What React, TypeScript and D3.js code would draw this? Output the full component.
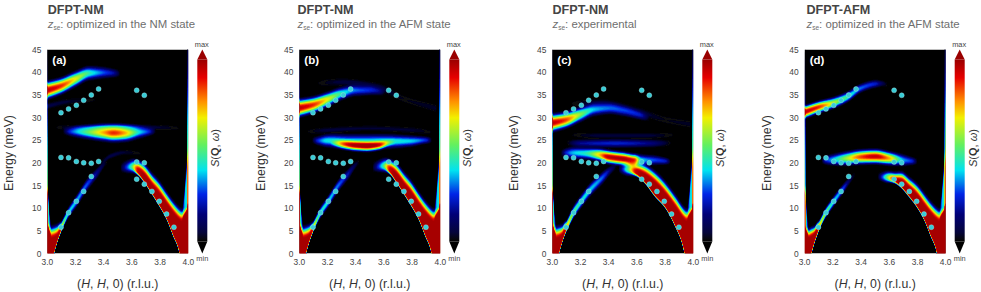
import React, { useMemo } from "react";
import * as d3 from "d3";

// ---- axis data
const xTicks = [3.0, 3.2, 3.4, 3.6, 3.8, 4.0];
const yTicks = [0, 5, 10, 15, 20, 25, 30, 35, 40, 45];

// ---- measured phonon points (same in every panel)
const pointsH = [3.097,3.151,3.206,3.258,3.312,3.364,3.634,3.688, 3.097,3.151,3.206,3.258,3.312,3.364,3.634,3.688, 3.097,3.151,3.206,3.258,3.312, 3.634,3.688,3.742,3.794,3.846,3.898];
const pointsE = [31.05,31.9,32.7,33.8,34.95,36.3,36.0,34.9, 21.2,21.1,20.3,20.0,19.9,20.3,20.2,20.0, 5.8,9.0,11.5,13.7,17.0, 16.4,15.3,13.7,11.5,8.7,5.8];

// ---- panel texts
const panelTitles = ["DFPT-NM", "DFPT-NM", "DFPT-NM", "DFPT-AFM"];
const panelSubs = [": optimized in the NM state", ": optimized in the AFM state", ": experimental", ": optimized in the AFM state"];
const panelTags = ["(a)", "(b)", "(c)", "(d)"];

// ---- colour scale stops
const cmapT = [0, 0.012, 0.05, 0.15, 0.26, 0.39, 0.53, 0.68, 0.77, 0.9, 1];
const cmapC = ["#000000", "#07070c", "#05053a", "#000078", "#0024e6", "#00e2f0", "#62f060", "#f2f000", "#ff9000", "#e60000", "#9a0000"];

// ---- intensity ridges: [H, lowerE, upperE, sigmaLower, sigmaUpper, peak]
type K = number[];
const leftFillA: K[] = [[3.0,-6,5,.2,1.4,1],[3.006,-6,4,.2,1.45,1],[3.014,-6,3.4,.2,1.45,1],[3.03,-2,3.2,.2,1.5,1],[3.043,0,3.3,.3,1.5,1],[3.07,3,3.8,.3,1.4,1],[3.09,4.8,5,.35,1,.95],[3.105,6,6,.4,.7,.68],[3.149,8.9,8.9,.6,.65,.42],[3.208,11.6,11.6,.7,.7,.38],[3.279,15.1,15.1,.75,.7,.3],[3.35,17.7,17.7,.7,.6,.18],[3.397,19.5,19.5,.5,.45,.07],[3.43,20.4,20.4,.4,.4,0]];
const leftFillB: K[] = [[3.0,-6,5,.2,1.4,1],[3.006,-6,4,.2,1.45,1],[3.014,-6,3.4,.2,1.45,1],[3.03,-2,3.2,.2,1.5,1],[3.043,0,3.3,.3,1.5,1],[3.07,3,3.8,.3,1.4,1],[3.09,4.8,5,.35,1,.95],[3.105,6,6,.4,.75,.72],[3.149,8.9,8.9,.6,.7,.46],[3.208,11.6,11.6,.7,.7,.41],[3.279,15.1,15.1,.75,.7,.32],[3.35,17.7,17.7,.7,.6,.2],[3.397,19.5,19.5,.5,.45,.08],[3.43,20.4,20.4,.4,.4,0]];
const leftFillC: K[] = [[3.0,-6,5,.2,1.4,1],[3.006,-6,4,.2,1.45,1],[3.014,-6,3.4,.2,1.45,1],[3.03,-2,3.2,.2,1.5,1],[3.043,0,3.3,.3,1.5,1],[3.07,3,3.9,.3,1.3,1],[3.09,4.8,5.2,.35,1,.95],[3.105,5.9,6,.4,.8,.78],[3.149,8.9,8.9,.65,.8,.54],[3.208,11.6,11.6,.75,.8,.44],[3.267,14,14,.8,.8,.4],[3.35,16.6,16.6,.8,.7,.32],[3.41,18.4,18.4,.6,.5,.16],[3.46,19.4,19.4,.4,.4,0]];
const leftFillD: K[] = [[3.0,-6,5,.2,1.1,1],[3.006,-6,4,.2,1.15,1],[3.014,-6,3.5,.2,1.2,1],[3.03,-2,3.3,.2,1.2,1],[3.043,0,3.5,.3,1.2,1],[3.07,3,4.2,.3,1,1],[3.09,4.8,5.4,.35,.8,.97],[3.105,6,6.1,.35,.7,.78],[3.149,8.9,8.9,.55,.65,.56],[3.206,11.5,11.5,.6,.65,.42],[3.258,13.7,13.7,.6,.6,.34],[3.31,15.8,15.8,.5,.5,.14],[3.36,17.6,17.6,.4,.4,0]];

const rightFillA: K[] = [[3.52,18.8,18.8,.5,.7,.02],[3.6,19.1,19.1,.75,.95,.52],[3.645,17.9,18.5,.4,1.1,.94],[3.688,16.2,17.2,.32,1.4,1],[3.74,13.7,15,.3,1.5,1],[3.792,11.1,13.1,.3,1.55,1],[3.846,8.1,10.7,.3,1.55,1],[3.893,4.4,8.7,.3,1.55,1],[3.94,.3,7.1,.3,1.55,1],[3.95,-6,6.9,.2,1.55,1],[3.965,-6,6.9,.2,1.5,1],[3.975,-6,7.3,.2,1.3,1],[3.986,-6,8,.2,1.1,1],[3.994,-6,9,.2,.8,1],[4.0,-6,10,.2,.6,1]];
const rightFillB: K[] = [[3.52,18.9,18.9,.5,.7,.02],[3.6,19.3,19.3,.75,.95,.52],[3.645,18.1,18.7,.4,1.1,.94],[3.688,16.2,17.4,.32,1.4,1],[3.74,13.7,15.2,.3,1.5,1],[3.792,11.1,13.2,.3,1.55,1],[3.846,8.1,10.7,.3,1.55,1],[3.893,4.4,8.7,.3,1.55,1],[3.94,.3,7.1,.3,1.55,1],[3.95,-6,6.9,.2,1.55,1],[3.965,-6,6.9,.2,1.5,1],[3.975,-6,7.3,.2,1.3,1],[3.986,-6,8,.2,1.1,1],[3.994,-6,9,.2,.8,1],[4.0,-6,10,.2,.6,1]];
const rightFillC: K[] = [[3.47,18.6,18.6,.5,.6,.02],[3.54,18.6,18.6,.8,.85,.55],[3.6,17.7,18.2,.45,1,.96],[3.66,15.9,17.2,.32,1.3,1],[3.73,13,15.4,.3,1.45,1],[3.8,10.6,13,.3,1.55,1],[3.87,6.6,10.1,.3,1.55,1],[3.94,.3,7.1,.3,1.55,1],[3.95,-6,6.9,.2,1.55,1],[3.965,-6,6.9,.2,1.5,1],[3.975,-6,7.3,.2,1.3,1],[3.986,-6,8,.2,1.1,1],[3.994,-6,9,.2,.8,1],[4.0,-6,10,.2,.6,1]];
const rightFillD: K[] = [[3.52,16.9,16.9,.4,.5,.02],[3.58,16.8,16.8,.65,.75,.52],[3.64,16.1,16.3,.38,.9,.94],[3.688,14.9,15.9,.3,1.15,1],[3.74,13,14.4,.3,1.3,1],[3.792,10.9,12.8,.3,1.45,1],[3.846,8,10.5,.3,1.55,1],[3.893,4.4,8.6,.3,1.55,1],[3.94,.3,7.1,.3,1.55,1],[3.95,-6,6.9,.2,1.55,1],[3.965,-6,6.9,.2,1.5,1],[3.975,-6,7.3,.2,1.3,1],[3.986,-6,8,.2,1.1,1],[3.994,-6,9,.2,.8,1],[4.0,-6,10,.2,.6,1]];

// thin rims and rising hooks along the two zone-boundary edges
const leftRim: K[] = [[3.0,0,9,1,18,.6],[3.002,0,9,1,18,.6],[3.005,0,9,1,18,0]];
const rightRim: K[] = [[3.992,0,14,1,18,0],[3.996,0,14,1,18,.6],[4.0,0,14,1,18,.7]];
const leftHook: K[] = [[3.0,5,13,1,1.5,.5],[3.008,5,9.5,1,1.3,.45],[3.016,5,6.5,1,1,.3],[3.026,5,5.2,1,1,0]];
const rightHook: K[] = [[3.958,8,8,1,1,0],[3.972,8,11,1,1.2,.34],[3.985,8,15.5,1,1.6,.42],[3.996,8,19,1,2,.3],[4.0,8,20,1,2,.1]];

const topBandA: K[] = [[3.0,36,36,1.1,1.1,.97],[3.1,37,37,1,1,.88],[3.2,38.5,38.5,.95,.95,.68],[3.3,39.8,39.8,.85,.85,.46],[3.4,39.9,39.9,.7,.7,.3],[3.47,39.8,39.8,.55,.55,.2],[3.52,39.7,39.7,.45,.45,0]];
const topBandB: K[] = [[3.0,32.1,32.1,1.1,1.1,.97],[3.1,32.8,32.8,1,1,.88],[3.2,34,34,.9,.9,.68],[3.3,35.3,35.3,.8,.8,.46],[3.4,36,36,.7,.7,.32],[3.5,36,36,.6,.6,.26],[3.56,35.8,35.8,.5,.5,.18],[3.61,35.5,35.5,.4,.4,0]];
const topBandC: K[] = [[3.0,28.8,28.8,1.1,1.1,.97],[3.1,29.5,29.5,1,1,.85],[3.2,30.7,30.7,.9,.9,.58],[3.3,31.8,31.8,.8,.8,.38],[3.4,32,32,.7,.7,.32],[3.5,31.5,31.5,.65,.65,.28],[3.62,30.5,30.5,.55,.55,.22],[3.69,29.8,29.8,.45,.45,0]];
const topBandD: K[] = [[3.0,31.2,31.2,.8,.8,.97],[3.1,32.3,32.3,.75,.75,.88],[3.2,33.2,33.2,.7,.7,.64],[3.3,34.5,34.5,.65,.65,.48],[3.4,36.5,36.5,.55,.55,.32],[3.5,37.4,37.4,.5,.5,.24],[3.55,37.5,37.5,.4,.4,.1],[3.59,37.2,37.2,.35,.35,0]];

const midBandA: K[] = [[3.11,27,27,.4,.4,0],[3.16,26.9,26.9,.55,.55,.26],[3.2,26.9,26.9,.7,.7,.36],[3.3,26.8,26.8,.9,.9,.56],[3.4,26.7,26.7,1.05,1.05,.76],[3.47,26.6,26.6,1.1,1.1,.88],[3.55,26.6,26.6,1.05,1.05,.76],[3.65,26.8,26.8,.8,.8,.42],[3.72,26.9,26.9,.55,.55,.26],[3.77,27,27,.4,.4,0]];
const midBandB: K[] = [[3.09,25,25,.4,.4,0],[3.13,24.9,24.9,.55,.55,.26],[3.2,24.9,24.9,.8,.8,.42],[3.35,24.6,24.6,.95,.95,.44],[3.47,24.6,24.6,.95,.95,.44],[3.6,24.7,24.7,.9,.9,.44],[3.78,24.8,24.8,.7,.7,.4],[3.9,25,25,.45,.45,.26],[3.94,25,25,.4,.4,0]];
const midCoreB: K[] = [[3.22,24.4,24.4,.4,.4,0],[3.32,24,24,.6,.6,.5],[3.4,23.7,23.7,.65,.65,.72],[3.48,23.6,23.6,.65,.65,.8],[3.56,23.8,23.8,.6,.6,.66],[3.64,24.4,24.4,.45,.45,.14],[3.68,24.6,24.6,.4,.4,0]];
const midBandC: K[] = [[3.06,22.2,22.2,.4,.4,0],[3.1,22.2,22.2,.6,.6,.26],[3.15,22.2,22.2,.75,.75,.38],[3.24,22.1,22.1,.75,.75,.46],[3.33,21.8,21.8,.8,.8,.72],[3.4,21.3,21.3,.85,.85,.98],[3.5,20.9,20.9,.85,.85,1],[3.58,20.6,20.6,.8,.8,.9],[3.63,20.6,20.6,.7,.7,.42],[3.72,20.6,20.6,.6,.6,.3],[3.8,20.4,20.4,.45,.45,.24],[3.84,20.3,20.3,.35,.35,0]];
const midBandD: K[] = [[3.12,20.5,20.5,.4,.4,0],[3.15,20.6,20.6,.55,.55,.26],[3.2,20.7,20.7,.7,.7,.38],[3.3,21,21,.85,.85,.62],[3.4,21.3,21.3,.9,.9,.86],[3.5,21.4,21.4,.9,.9,.96],[3.6,21,21,.85,.85,.76],[3.7,20.6,20.6,.7,.7,.36],[3.76,20.4,20.4,.5,.5,.26],[3.8,20.3,20.3,.4,.4,0]];

const ghostA1: K[] = [[3.03,27.8,27.8,.35,.35,0],[3.2,27.8,27.8,.35,.35,.06],[3.5,28,28,.35,.35,.09],[3.8,27.8,27.8,.35,.35,.05],[3.97,27.6,27.6,.35,.35,0]];
const ghostA2: K[] = [[3.36,19.5,19.5,.3,.3,0],[3.45,21.5,21.5,.35,.35,.08],[3.55,22.3,22.3,.35,.35,.05],[3.7,22,22,.3,.3,0]];
const ghostA3: K[] = [[3.0,32.5,32.5,.4,.4,.08],[3.15,33.5,33.5,.4,.4,.05],[3.4,34,34,.4,.4,0]];
const ghostB1: K[] = [[3.03,26.8,26.8,.35,.35,0],[3.2,27.2,27.2,.4,.4,.06],[3.5,27.6,27.6,.4,.4,.05],[3.8,27.2,27.2,.4,.4,.05],[3.97,26.6,26.6,.35,.35,0]];
const ghostB2: K[] = [[3.1,37.5,37.5,.5,.5,0],[3.3,37.8,37.8,.5,.5,.06],[3.55,36.8,36.8,.5,.5,.07],[3.75,34,34,.5,.5,.03],[3.97,32,32,.5,.5,.05]];
const ghostC1: K[] = [[3.1,24.4,24.4,.4,.4,0],[3.2,24.3,24.3,.5,.5,.18],[3.45,24.3,24.3,.55,.55,.24],[3.7,24.3,24.3,.5,.5,.16],[3.85,24.4,24.4,.4,.4,0]];
const ghostC2: K[] = [[3.1,33,33,.5,.5,0],[3.35,33.2,33.2,.5,.5,.07],[3.6,31.5,31.5,.5,.5,.07],[3.8,29.5,29.5,.5,.5,.03],[3.98,28.5,28.5,.5,.5,.04]];
const ghostC3: K[] = [[3.1,26.2,26.2,.4,.4,0],[3.35,26,26,.4,.4,.06],[3.65,26,26,.4,.4,.06],[3.9,26.2,26.2,.4,.4,0]];

const panelBands: K[][][] = [
  [leftFillA, rightFillA, topBandA, midBandA, ghostA1, ghostA2, ghostA3, leftRim, rightRim, leftHook, rightHook],
  [leftFillB, rightFillB, topBandB, midBandB, midCoreB, ghostB1, ghostB2, leftRim, rightRim, leftHook, rightHook],
  [leftFillC, rightFillC, topBandC, midBandC, ghostC1, ghostC2, ghostC3, leftRim, rightRim, leftHook, rightHook],
  [leftFillD, rightFillD, topBandD, midBandD, leftRim, rightRim, leftHook, rightHook],
];

// ---- layout
const WIDTH = 981, HEIGHT = 292;
const panelX = [47.3, 299.3, 552.3, 804.7];
const titleX = [47.7, 297.5, 552.5, 806.5];
const PW = 141, PT = 49.5, PB = 253.5;
const GRID = 2;
const GW = Math.round(PW * GRID), GH = Math.round((PB - PT) * GRID);
const FONT = "'Liberation Sans', Arial, sans-serif";

const xScale = d3.scaleLinear().domain([3, 4]).range([0, PW]);
const yScale = d3.scaleLinear().domain([0, 45]).range([PB, PT]);
const color = d3.scaleLinear<string>().domain(cmapT).range(cmapC).interpolate(d3.interpolateRgb).clamp(true);
const levels = [0.006, ...d3.range(0.012, 1.0, 0.018)];

// monotone cubic through the knots of one ridge column
function monotone(xs: number[], ys: number[]) {
  const n = xs.length;
  const s: number[] = [];
  for (let i = 0; i < n - 1; i++) s.push((ys[i + 1] - ys[i]) / (xs[i + 1] - xs[i]));
  const m: number[] = [s[0]];
  for (let i = 1; i < n - 1; i++) m.push(s[i - 1] * s[i] <= 0 ? 0 : (2 * s[i - 1] * s[i]) / (s[i - 1] + s[i]));
  m.push(s[n - 2]);
  return (x: number) => {
    let i = d3.bisectRight(xs, x) - 1;
    i = Math.max(0, Math.min(n - 2, i));
    const h = xs[i + 1] - xs[i], t = (x - xs[i]) / h, t2 = t * t, t3 = t2 * t;
    return (2 * t3 - 3 * t2 + 1) * ys[i] + (t3 - 2 * t2 + t) * h * m[i] + (-2 * t3 + 3 * t2) * ys[i + 1] + (t3 - t2) * h * m[i + 1];
  };
}

// compact ridge profile: falls to zero within 2.3 widths
function profile(u: number) {
  if (u >= 2.3) return 0;
  const c = Math.cos((Math.PI * u) / 4.6);
  return c * c;
}

function buildField(bands: K[][]) {
  const values = new Float64Array(GW * GH);
  for (const band of bands) {
    const xs = band.map((k) => k[0]);
    const f = [1, 2, 3, 4, 5].map((c) => monotone(xs, band.map((k) => k[c])));
    for (let ix = 0; ix < GW; ix++) {
      const H = xScale.invert((ix + 0.5) / GRID);
      if (H < xs[0] || H > xs[xs.length - 1]) continue;
      const lo = f[0](H), hi = f[1](H), sl = f[2](H), sh = f[3](H), p = f[4](H);
      if (p <= 0) continue;
      for (let iy = 0; iy < GH; iy++) {
        const E = yScale.invert(PT + (iy + 0.5) / GRID);
        let w = 1;
        if (E < lo) w = profile((lo - E) / sl);
        else if (E > hi) w = profile((E - hi) / sh);
        values[iy * GW + ix] = Math.min(1.02, values[iy * GW + ix] + p * w);
      }
    }
  }
  return values;
}

function Panel({ index }: { index: number }) {
  const x0 = panelX[index];
  const paths = useMemo(() => {
    const values = buildField(panelBands[index]);
    const gen = d3.contours().size([GW, GH]).thresholds(levels);
    const geo = d3.geoPath();
    return gen(Array.from(values)).map((c) => ({ d: geo(c) || "", fill: color(c.value) }));
  }, [index]);
  const cbX = x0 + 150, cbW = 10;
  const cbTop = PT + 10, cbBot = PB - 12;
  const gradId = `cb${index}`;
  const clipId = `clip${index}`;
  const capTop = `M${cbX},${cbTop} L${cbX + cbW / 2},${PT} L${cbX + cbW},${cbTop} Z`;
  const capBot = `M${cbX},${cbBot} L${cbX + cbW / 2},${PB} L${cbX + cbW},${cbBot} Z`;
  return (
    <g>
      <text x={titleX[index]} y={14} fontFamily={FONT} fontSize={12.6} fontWeight="bold" fill="#454545">{panelTitles[index]}</text>
      <text x={titleX[index]} y={27.5} fontFamily={FONT} fontSize={11.4} fill="#6e6e6e">
        <tspan fontStyle="italic">z</tspan>
        <tspan fontSize={6.5} dy={2}>se</tspan>
        <tspan dy={-2}>{panelSubs[index]}</tspan>
      </text>
      <clipPath id={clipId}><rect x={x0} y={PT} width={PW} height={PB - PT} /></clipPath>
      <g clipPath={`url(#${clipId})`}>
        <rect x={x0} y={PT} width={PW} height={PB - PT} fill="#000" />
        <g filter="url(#soft)">
          <g transform={`translate(${x0},${PT}) scale(${1 / GRID})`}>
            {paths.map((p, i) => <path key={i} d={p.d} fill={p.fill} />)}
          </g>
        </g>
      </g>
      <text x={x0 + 5} y={64} fontFamily={FONT} fontSize={11.5} fontWeight="bold" fill="#fff">{panelTags[index]}</text>
      {pointsH.map((h, i) => (
        <circle key={i} cx={x0 + xScale(h)} cy={yScale(pointsE[i])} r={2.5} fill="#38ccd6" stroke="#b8e8ec" strokeOpacity={0.7} strokeWidth={0.5} />
      ))}
      {yTicks.map((t) => (
        <text key={t} x={x0 - 6} y={yScale(t) + 3} textAnchor="end" fontFamily={FONT} fontSize={8.4} fill="#444">{t}</text>
      ))}
      {xTicks.map((t) => (
        <text key={t} x={x0 + xScale(t)} y={265} textAnchor="middle" fontFamily={FONT} fontSize={8.4} fill="#444">{t.toFixed(1)}</text>
      ))}
      <text transform={`translate(${x0 - 34},153) rotate(-90)`} textAnchor="middle" fontFamily={FONT} fontSize={12.3} fill="#333">
        Energy (meV)
      </text>
      <text x={x0 + 70.5} y={288} textAnchor="middle" fontFamily={FONT} fontSize={12.3} fill="#333">
        (<tspan fontStyle="italic">H</tspan>, <tspan fontStyle="italic">H</tspan>, 0) (r.l.u.)
      </text>
      <defs>
        <linearGradient id={gradId} x1="0" y1="1" x2="0" y2="0">
          {cmapT.map((t, i) => <stop key={i} offset={t} stopColor={cmapC[i]} />)}
        </linearGradient>
      </defs>
      <rect x={cbX} y={cbTop} width={cbW} height={cbBot - cbTop} fill={`url(#${gradId})`} />
      <path d={capTop} fill={cmapC[cmapC.length - 1]} />
      <path d={capBot} fill={cmapC[0]} />
      <text x={cbX + 4.5} y={46.5} textAnchor="middle" fontFamily={FONT} fontSize={7.4} fill="#444">max</text>
      <text x={cbX + 5} y={260.5} textAnchor="middle" fontFamily={FONT} fontSize={7.4} fill="#444">min</text>
      <text transform={`translate(${cbX + 22},148) rotate(-90)`} textAnchor="middle" fontFamily={FONT} fontSize={11} fill="#333">
        <tspan fontStyle="italic">S</tspan>(<tspan fontWeight="bold">Q</tspan>, <tspan fontStyle="italic">ω</tspan>)
      </text>
    </g>
  );
}

export default function App() {
  return (
    <svg width={WIDTH} height={HEIGHT} viewBox={`0 0 ${WIDTH} ${HEIGHT}`} style={{ position: "absolute", left: 0, top: 0, background: "#fff" }}>
      <defs>
        <filter id="soft" x="-5%" y="-5%" width="110%" height="110%">
          <feGaussianBlur stdDeviation="0.45" />
        </filter>
      </defs>
      {panelX.map((_, i) => <Panel key={i} index={i} />)}
    </svg>
  );
}
